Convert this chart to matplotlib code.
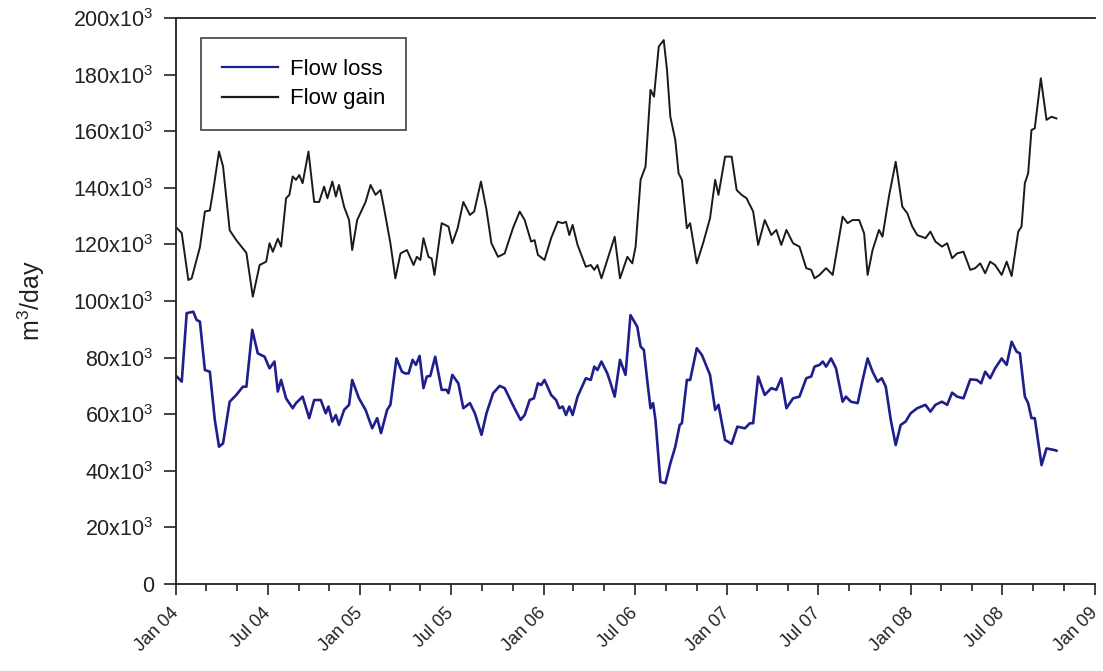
import datetime as dt
import matplotlib
matplotlib.use("Agg")
import matplotlib.pyplot as plt
import matplotlib.dates as mdates
from matplotlib.ticker import FuncFormatter, MultipleLocator

plt.rcParams['font.family'] = ['Liberation Sans', 'DejaVu Sans']
plt.rcParams['mathtext.fontset'] = 'custom'
plt.rcParams['mathtext.rm'] = 'Liberation Sans'
plt.rcParams['mathtext.it'] = 'Liberation Sans:italic'

# time in years after 1 Jan 2004, values in 10^3 m3/day
gain_t = [0.004, 0.031, 0.067, 0.085, 0.130, 0.157, 0.184, 0.202, 0.234, 0.256,
          0.292, 0.328, 0.383, 0.418, 0.455, 0.491, 0.509, 0.527, 0.554, 0.572,
          0.599, 0.617, 0.635, 0.653, 0.671, 0.689, 0.721, 0.752, 0.779, 0.806,
          0.824, 0.851, 0.870, 0.887, 0.915, 0.942, 0.959, 0.986, 1.032, 1.059,
          1.086, 1.113, 1.131, 1.167, 1.194, 1.222, 1.257, 1.293, 1.311, 1.330,
          1.347, 1.374, 1.392, 1.407, 1.446, 1.483, 1.504, 1.533, 1.564, 1.600,
          1.623, 1.660, 1.690, 1.717, 1.753, 1.789, 1.834, 1.871, 1.898, 1.933,
          1.952, 1.970, 2.006, 2.042, 2.078, 2.105, 2.123, 2.141, 2.159, 2.186,
          2.231, 2.258, 2.277, 2.294, 2.316, 2.348, 2.388, 2.417, 2.457, 2.484,
          2.502, 2.529, 2.556, 2.583, 2.602, 2.628, 2.655, 2.673, 2.691, 2.718,
          2.736, 2.754, 2.781, 2.799, 2.835, 2.872, 2.907, 2.935, 2.953, 2.989,
          3.025, 3.052, 3.079, 3.106, 3.142, 3.169, 3.205, 3.241, 3.268, 3.295,
          3.323, 3.359, 3.394, 3.431, 3.458, 3.476, 3.503, 3.539, 3.575, 3.629,
          3.656, 3.683, 3.719, 3.746, 3.765, 3.792, 3.827, 3.846, 3.881, 3.918,
          3.954, 3.981, 4.008, 4.035, 4.080, 4.107, 4.134, 4.170, 4.198, 4.225,
          4.252, 4.287, 4.324, 4.351, 4.378, 4.405, 4.432, 4.459, 4.495, 4.522,
          4.549, 4.585, 4.603, 4.621, 4.639, 4.657, 4.675, 4.708, 4.739, 4.766,
          4.793]
gain_v = [125.8, 124.0, 107.4, 108.0, 119.0, 131.6, 132.0, 139.0, 152.8, 147.5,
          125.0, 121.5, 117.0, 101.5, 112.7, 113.9, 120.4, 117.4, 122.0, 119.2,
          136.3, 137.5, 144.0, 142.8, 144.5, 141.6, 152.8, 135.0, 135.0, 140.4,
          136.3, 142.2, 136.9, 141.0, 133.3, 128.6, 118.0, 128.6, 135.0, 141.0,
          137.5, 139.2, 133.3, 120.4, 108.0, 116.8, 118.0, 112.7, 115.6, 114.5,
          122.2, 115.6, 115.0, 109.2, 127.5, 126.3, 120.4, 125.7, 135.0, 130.4,
          131.6, 142.2, 132.2, 120.4, 115.6, 116.8, 125.7, 131.6, 128.6, 121.0,
          121.5, 116.3, 114.5, 122.2, 128.0, 127.5, 128.0, 123.3, 126.9, 119.8,
          112.1, 112.7, 111.0, 112.7, 108.0, 114.5, 122.7, 108.0, 115.6, 113.3,
          119.2, 142.8, 147.5, 174.6, 172.2, 189.9, 192.2, 181.6, 165.1, 156.9,
          145.1, 142.8, 125.7, 127.5, 113.3, 121.0, 129.2, 142.8, 137.5, 151.0,
          151.0, 139.2, 137.5, 136.3, 131.6, 119.8, 128.6, 123.3, 125.1, 119.8,
          125.1, 120.4, 119.2, 111.6, 111.0, 108.0, 109.2, 111.6, 109.2, 129.8,
          127.5, 128.6, 128.6, 123.9, 109.2, 118.0, 125.1, 122.7, 136.9, 149.2,
          133.3, 131.0, 126.3, 123.3, 122.2, 124.5, 121.0, 119.2, 120.4, 115.1,
          116.8, 117.4, 111.0, 111.6, 113.3, 109.8, 113.9, 112.7, 109.2, 113.9,
          108.8, 124.5, 126.3, 141.6, 145.1, 160.4, 161.0, 178.7, 164.0, 165.1,
          164.5]

loss_t = [0.004, 0.031, 0.058, 0.094, 0.112, 0.130, 0.157, 0.184, 0.211, 0.234,
          0.256, 0.292, 0.328, 0.364, 0.383, 0.415, 0.445, 0.482, 0.509, 0.536,
          0.554, 0.572, 0.599, 0.635, 0.653, 0.689, 0.725, 0.752, 0.788, 0.815,
          0.830, 0.851, 0.870, 0.887, 0.915, 0.942, 0.959, 0.996, 1.032, 1.068,
          1.095, 1.116, 1.149, 1.167, 1.200, 1.230, 1.248, 1.266, 1.288, 1.306,
          1.326, 1.347, 1.365, 1.384, 1.411, 1.446, 1.473, 1.483, 1.504, 1.537,
          1.564, 1.600, 1.627, 1.663, 1.690, 1.726, 1.762, 1.789, 1.825, 1.852,
          1.876, 1.898, 1.925, 1.948, 1.970, 1.988, 2.006, 2.042, 2.069, 2.087,
          2.105, 2.123, 2.141, 2.159, 2.186, 2.231, 2.258, 2.277, 2.294, 2.316,
          2.348, 2.366, 2.388, 2.417, 2.447, 2.474, 2.511, 2.529, 2.547, 2.565,
          2.583, 2.597, 2.610, 2.637, 2.664, 2.691, 2.718, 2.742, 2.754, 2.781,
          2.799, 2.835, 2.863, 2.907, 2.935, 2.953, 2.989, 3.025, 3.056, 3.097,
          3.124, 3.142, 3.169, 3.205, 3.241, 3.268, 3.295, 3.323, 3.359, 3.394,
          3.431, 3.458, 3.476, 3.503, 3.521, 3.539, 3.566, 3.593, 3.629, 3.647,
          3.674, 3.711, 3.738, 3.765, 3.792, 3.819, 3.842, 3.864, 3.891, 3.918,
          3.945, 3.972, 3.999, 4.035, 4.080, 4.107, 4.134, 4.170, 4.198, 4.225,
          4.252, 4.287, 4.324, 4.360, 4.383, 4.405, 4.432, 4.459, 4.495, 4.522,
          4.549, 4.576, 4.594, 4.621, 4.639, 4.657, 4.675, 4.712, 4.739, 4.784,
          4.793]
loss_v = [73.3, 71.5, 95.7, 96.2, 93.3, 92.7, 75.6, 75.0, 58.0, 48.5,
          49.7, 64.4, 66.8, 69.7, 69.7, 89.8, 81.5, 80.3, 76.2, 78.6,
          68.0, 72.1, 65.6, 62.1, 63.9, 66.2, 58.6, 65.0, 65.0, 60.3,
          62.7, 57.4, 59.7, 56.2, 61.5, 63.3, 72.1, 65.6, 61.5, 55.0,
          58.6, 53.3, 61.5, 63.3, 79.7, 75.0, 74.4, 74.4, 79.2, 77.4,
          80.6, 69.2, 73.3, 73.5, 80.3, 68.6, 68.6, 67.4, 73.9, 70.9,
          62.1, 63.9, 60.3, 52.7, 60.3, 67.4, 70.0, 69.2, 64.4, 60.9,
          58.0, 59.7, 65.0, 65.6, 70.9, 70.3, 72.1, 66.8, 65.0, 62.1,
          62.7, 59.7, 62.7, 59.7, 66.2, 72.7, 72.1, 76.8, 75.6, 78.6,
          74.4, 70.9, 66.2, 79.2, 73.9, 95.0, 90.9, 83.9, 82.7, 72.1,
          62.1, 63.9, 58.0, 36.1, 35.6, 42.6, 48.5, 56.2, 56.8, 72.1,
          72.1, 83.3, 80.9, 73.9, 61.5, 63.3, 50.9, 49.5, 55.6, 55.0,
          56.8, 56.8, 73.3, 66.8, 69.2, 68.6, 72.7, 62.1, 65.6, 66.2,
          72.7, 73.3, 76.8, 77.4, 78.6, 76.8, 79.7, 76.2, 64.4, 66.2,
          64.4, 63.9, 72.1, 79.7, 75.0, 71.5, 72.7, 69.7, 58.0, 49.1,
          56.2, 57.4, 60.3, 62.1, 63.3, 60.9, 63.3, 64.4, 63.3, 67.6,
          66.2, 65.6, 72.3, 72.1, 70.9, 75.0, 72.7, 76.2, 79.7, 77.4,
          85.6, 82.1, 81.5, 66.2, 63.9, 58.6, 58.6, 42.0, 47.9, 47.3,
          47.1]

START = dt.datetime(2004, 1, 1)
TXT = '#222222'


def to_dates(years):
    return [START + dt.timedelta(days=y * 365.25) for y in years]


fig = plt.figure(figsize=(11.03, 6.71), dpi=100)
ax = fig.add_axes([0.1596, 0.1297, 0.8330, 0.8435])

ax.plot(to_dates(loss_t), [v * 1000 for v in loss_v], color='#1f1f8c', lw=1.9,
        solid_joinstyle='round', label='Flow loss')
ax.plot(to_dates(gain_t), [v * 1000 for v in gain_v], color='#1a1a1a', lw=1.4,
        solid_joinstyle='round', label='Flow gain')

ax.set_xlim(dt.datetime(2004, 1, 1), dt.datetime(2009, 1, 1))
ax.set_ylim(0, 200000)

ax.xaxis.set_major_locator(mdates.MonthLocator(bymonth=[1, 7]))
ax.xaxis.set_minor_locator(mdates.MonthLocator(bymonth=[3, 5, 9, 11]))
ax.xaxis.set_major_formatter(mdates.DateFormatter('%b %y'))
ax.yaxis.set_major_locator(MultipleLocator(20000))
ax.yaxis.set_major_formatter(FuncFormatter(
    lambda v, p: '0' if v == 0 else f'{v / 1000:.0f}x10$^{{3}}$'))

ax.tick_params(axis='y', which='major', direction='out', length=9, width=1.2,
               labelsize=15.5, pad=7, colors=TXT)
ax.tick_params(axis='x', which='major', direction='out', length=8, width=1.2,
               labelsize=13, pad=11, colors=TXT)
ax.tick_params(axis='x', which='minor', direction='out', length=5, width=1.2, colors=TXT)
for lab in ax.get_xticklabels():
    lab.set_rotation(45)
    lab.set_ha('right')
    lab.set_va('center')
    lab.set_rotation_mode('anchor')

for side in ['left', 'bottom', 'top']:
    ax.spines[side].set_linewidth(1.3)
    ax.spines[side].set_color(TXT)
ax.spines['right'].set_visible(False)

ax.set_ylabel('m$^{3}$/day', fontsize=18, color=TXT)
ax.yaxis.set_label_coords(-0.140, 0.5)

leg = ax.legend(loc='upper left', bbox_to_anchor=(0.027, 0.965), borderaxespad=0,
                fontsize=16, frameon=True, fancybox=False, handlelength=2.5,
                borderpad=0.95, labelspacing=0.38, handletextpad=0.55)
leg.get_frame().set_edgecolor(TXT)
leg.get_frame().set_linewidth(1.3)
for line in leg.get_lines():
    line.set_linewidth(1.6)

fig.savefig('out.png', dpi=100)
